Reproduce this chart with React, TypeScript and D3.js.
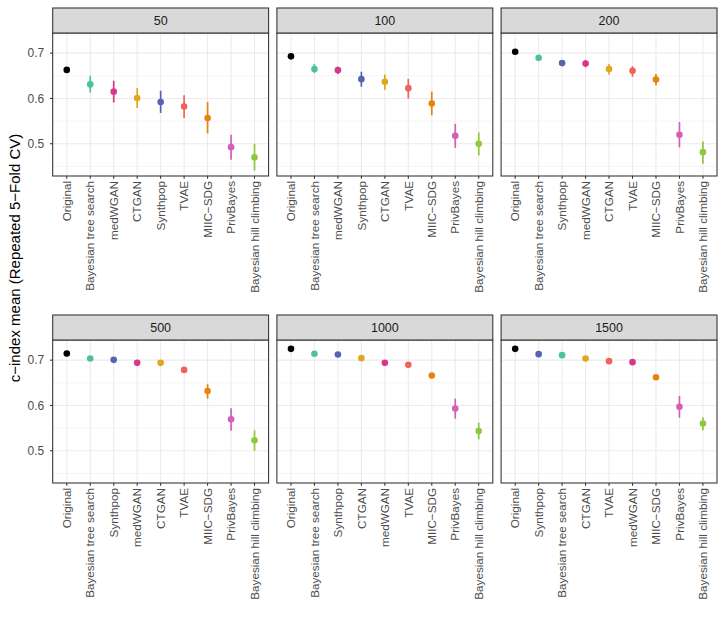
import React from "react";
import * as d3 from "d3";

const sizes = ["50", "100", "200", "500", "1000", "1500"];

const methods50 = ["Original", "Bayesian tree search", "medWGAN", "CTGAN", "Synthpop", "TVAE", "MIIC−SDG", "PrivBayes", "Bayesian hill climbing"];
const mean50 = [0.663, 0.631, 0.615, 0.601, 0.592, 0.582, 0.557, 0.4925, 0.470];
const lo50 = [0.662, 0.613, 0.591, 0.579, 0.568, 0.557, 0.523, 0.4645, 0.441];
const hi50 = [0.664, 0.650, 0.639, 0.623, 0.617, 0.607, 0.592, 0.520, 0.500];

const methods100 = ["Original", "Bayesian tree search", "medWGAN", "Synthpop", "CTGAN", "TVAE", "MIIC−SDG", "PrivBayes", "Bayesian hill climbing"];
const mean100 = [0.693, 0.665, 0.6625, 0.6426, 0.6366, 0.6227, 0.5888, 0.5174, 0.4998];
const lo100 = [0.692, 0.656, 0.654, 0.626, 0.619, 0.600, 0.563, 0.491, 0.474];
const hi100 = [0.694, 0.676, 0.670, 0.659, 0.653, 0.6433, 0.615, 0.544, 0.525];

const methods200 = ["Original", "Bayesian tree search", "Synthpop", "medWGAN", "CTGAN", "TVAE", "MIIC−SDG", "PrivBayes", "Bayesian hill climbing"];
const mean200 = [0.703, 0.6896, 0.678, 0.677, 0.665, 0.661, 0.6418, 0.520, 0.4815];
const lo200 = [0.702, 0.686, 0.674, 0.669, 0.653, 0.648, 0.629, 0.492, 0.456];
const hi200 = [0.704, 0.693, 0.682, 0.685, 0.676, 0.671, 0.654, 0.548, 0.505];

const methods500 = ["Original", "Bayesian tree search", "Synthpop", "medWGAN", "CTGAN", "TVAE", "MIIC−SDG", "PrivBayes", "Bayesian hill climbing"];
const mean500 = [0.7146, 0.7035, 0.7007, 0.694, 0.694, 0.6785, 0.632, 0.5694, 0.523];
const lo500 = [0.7136, 0.701, 0.698, 0.691, 0.691, 0.675, 0.615, 0.544, 0.500];
const hi500 = [0.7156, 0.706, 0.703, 0.697, 0.697, 0.682, 0.647, 0.594, 0.545];

const methods1000 = ["Original", "Bayesian tree search", "Synthpop", "CTGAN", "medWGAN", "TVAE", "MIIC−SDG", "PrivBayes", "Bayesian hill climbing"];
const mean1000 = [0.725, 0.714, 0.7124, 0.7044, 0.694, 0.6896, 0.666, 0.593, 0.5436];
const lo1000 = [0.724, 0.712, 0.710, 0.702, 0.691, 0.687, 0.663, 0.571, 0.525];
const hi1000 = [0.726, 0.716, 0.715, 0.707, 0.697, 0.692, 0.669, 0.615, 0.562];

const methods1500 = ["Original", "Synthpop", "Bayesian tree search", "CTGAN", "TVAE", "medWGAN", "MIIC−SDG", "PrivBayes", "Bayesian hill climbing"];
const mean1500 = [0.725, 0.7133, 0.711, 0.7035, 0.6978, 0.6956, 0.6624, 0.5973, 0.560];
const lo1500 = [0.724, 0.711, 0.709, 0.701, 0.695, 0.693, 0.660, 0.573, 0.545];
const hi1500 = [0.726, 0.716, 0.713, 0.706, 0.700, 0.698, 0.665, 0.621, 0.574];

const yTicks = [0.5, 0.6, 0.7];
const yMinor = [0.45, 0.55, 0.65];

const methodColors: Record<string, string> = {
  "Original": "#000000",
  "Bayesian tree search": "#4EC0A2",
  "medWGAN": "#D8378C",
  "CTGAN": "#E2A51E",
  "Synthpop": "#5662B2",
  "TVAE": "#F0625C",
  "MIIC−SDG": "#E8820C",
  "PrivBayes": "#D25FB8",
  "Bayesian hill climbing": "#8DC83E",
};

const panelsData = [
  { m: methods50, mean: mean50, lo: lo50, hi: hi50 },
  { m: methods100, mean: mean100, lo: lo100, hi: hi100 },
  { m: methods200, mean: mean200, lo: lo200, hi: hi200 },
  { m: methods500, mean: mean500, lo: lo500, hi: hi500 },
  { m: methods1000, mean: mean1000, lo: lo1000, hi: hi1000 },
  { m: methods1500, mean: mean1500, lo: lo1500, hi: hi1500 },
];

const FONT = "'Liberation Sans', Arial, Helvetica, sans-serif";
const colLeft = [52.7, 276.9, 501.1];
const panelW = 215.9;
const rowStripTop = [8, 315];
const stripH = 25;
const panelH = 143;

function Panel({ idx }: { idx: number }) {
  const col = idx % 3;
  const row = Math.floor(idx / 3);
  const x0 = colLeft[col];
  const x1 = x0 + panelW;
  const st = rowStripTop[row];
  const y0 = st + stripH;
  const y1 = y0 + panelH;
  const pd = panelsData[idx];
  const x = d3.scalePoint<string>().domain(pd.m).range([x0, x1]).padding(0.6);
  const y = d3.scaleLinear().domain([0.4288, 0.7445]).range([y1, y0]);
  return (
    <g>
      <rect x={x0} y={y0} width={panelW} height={panelH} fill="#FFFFFF" />
      {yMinor.map((t) => (
        <line key={"mn" + t} x1={x0} x2={x1} y1={y(t)} y2={y(t)} stroke="#EBEBEB" strokeWidth={0.55} />
      ))}
      {yTicks.map((t) => (
        <line key={"mj" + t} x1={x0} x2={x1} y1={y(t)} y2={y(t)} stroke="#EBEBEB" strokeWidth={1.07} />
      ))}
      {pd.m.map((m) => (
        <line key={"xg" + m} x1={x(m)} x2={x(m)} y1={y0} y2={y1} stroke="#EBEBEB" strokeWidth={1.07} />
      ))}
      {pd.m.map((m, i) => (
        <g key={"pt" + m}>
          <line x1={x(m)} x2={x(m)} y1={y(pd.lo[i])} y2={y(pd.hi[i])} stroke={methodColors[m]} strokeWidth={1.7} />
          <circle cx={x(m)} cy={y(pd.mean[i])} r={3.3} fill={methodColors[m]} />
        </g>
      ))}
      <rect x={x0} y={y0} width={panelW} height={panelH} fill="none" stroke="#333333" strokeWidth={1.07} />
      <rect x={x0} y={st} width={panelW} height={stripH} fill="#D9D9D9" stroke="#333333" strokeWidth={1.07} />
      <text x={(x0 + x1) / 2} y={st + stripH / 2} dy="0.36em" textAnchor="middle" fontSize={12.5} fill="#1A1A1A" fontFamily={FONT}>
        {sizes[idx]}
      </text>
      {pd.m.map((m) => (
        <g key={"xt" + m}>
          <line x1={x(m)} x2={x(m)} y1={y1} y2={y1 + 2.75} stroke="#333333" strokeWidth={1.07} />
          <text
            transform={`translate(${x(m)},${y1 + 5}) rotate(-90)`}
            textAnchor="end"
            dy="0.36em"
            fontSize={11.7}
            fill="#4D4D4D"
            fontFamily={FONT}
          >
            {m}
          </text>
        </g>
      ))}
      {col === 0 &&
        yTicks.map((t) => (
          <g key={"yt" + t}>
            <line x1={x0 - 2.75} x2={x0} y1={y(t)} y2={y(t)} stroke="#333333" strokeWidth={1.07} />
            <text x={x0 - 8.5} y={y(t)} dy="0.36em" textAnchor="end" fontSize={12} fill="#4D4D4D" fontFamily={FONT}>
              {d3.format(".1f")(t)}
            </text>
          </g>
        ))}
    </g>
  );
}

export default function App() {
  return (
    <svg width={726} height={623} style={{ position: "absolute", left: 0, top: 0, background: "#FFFFFF" }}>
      <rect x={0} y={0} width={726} height={623} fill="#FFFFFF" />
      {sizes.map((s, i) => (
        <Panel key={s} idx={i} />
      ))}
      <text
        transform="translate(15,258) rotate(-90)"
        textAnchor="middle"
        dy="0.36em"
        fontSize={15}
        fill="#000000"
        fontFamily={FONT}
      >
        c−index mean (Repeated 5−Fold CV)
      </text>
    </svg>
  );
}
